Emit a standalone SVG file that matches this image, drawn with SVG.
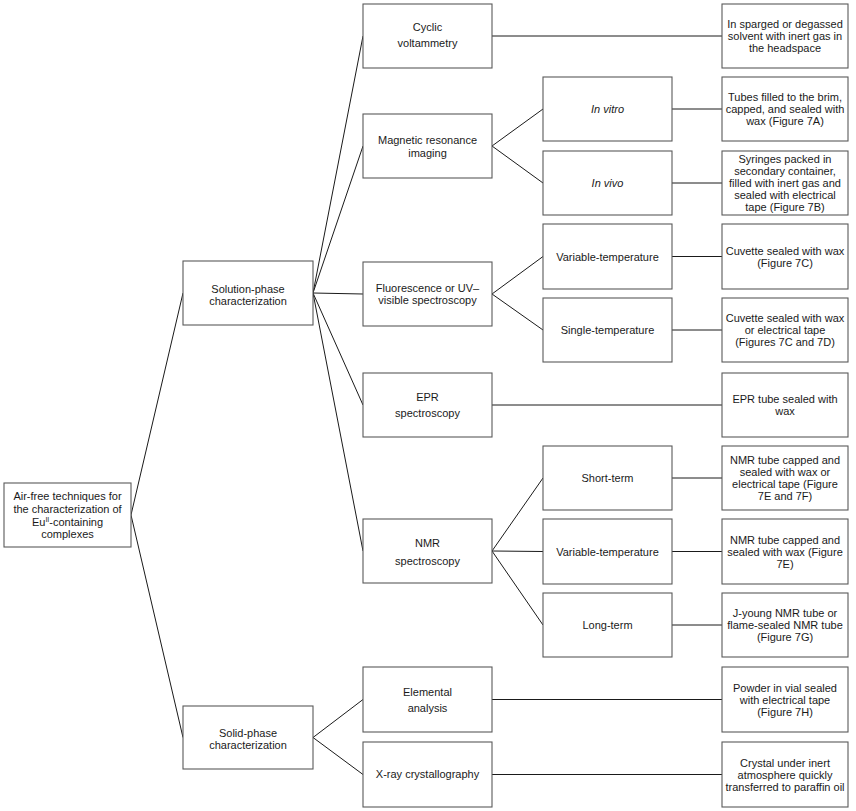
<svg xmlns="http://www.w3.org/2000/svg" width="856" height="811" viewBox="0 0 856 811">
<style>
  .box { fill: #ffffff; stroke: #5a5a5a; stroke-width: 1.1; }
  .t { font-family: "Liberation Sans", Arial, sans-serif; font-size: 11px; fill: #1a1a1a; text-anchor: middle; }
  .it { font-style: italic; }
  .conn line { stroke: #1a1a1a; stroke-width: 1; }
</style>
<rect width="856" height="811" fill="#ffffff"/>

<g id="connectors" class="conn">
  <line x1="131" y1="515" x2="183" y2="293"/>
  <line x1="131" y1="515" x2="183" y2="737.5"/>
  <line x1="313" y1="293" x2="363" y2="36"/>
  <line x1="313" y1="293" x2="363" y2="146"/>
  <line x1="313" y1="293" x2="363" y2="294"/>
  <line x1="313" y1="293" x2="363" y2="405"/>
  <line x1="313" y1="293" x2="363" y2="551"/>
  <line x1="313" y1="737.5" x2="363" y2="699.5"/>
  <line x1="313" y1="737.5" x2="363" y2="774.5"/>
  <line x1="492" y1="146" x2="543" y2="109"/>
  <line x1="492" y1="146" x2="543" y2="183"/>
  <line x1="492" y1="294" x2="543" y2="256.5"/>
  <line x1="492" y1="294" x2="543" y2="330"/>
  <line x1="492" y1="551" x2="543" y2="478"/>
  <line x1="492" y1="551" x2="543" y2="551.5"/>
  <line x1="492" y1="551" x2="543" y2="625"/>
  <line x1="492" y1="36" x2="722" y2="36"/>
  <line x1="672" y1="109" x2="722" y2="109"/>
  <line x1="672" y1="183" x2="722" y2="183"/>
  <line x1="672" y1="256.5" x2="722" y2="256.5"/>
  <line x1="672" y1="330" x2="722" y2="330"/>
  <line x1="492" y1="405" x2="722" y2="405"/>
  <line x1="672" y1="478" x2="722" y2="478"/>
  <line x1="672" y1="551.5" x2="722" y2="551.5"/>
  <line x1="672" y1="625" x2="722" y2="625"/>
  <line x1="492" y1="699.5" x2="722" y2="699.5"/>
  <line x1="492" y1="774.5" x2="722" y2="774.5"/>
</g>

<g id="root">
  <rect class="box" x="4" y="483" width="127" height="64"/>
  <text class="t" x="67.5" y="500">Air-free techniques for</text>
  <text class="t" x="67.5" y="513">the characterization of</text>
  <text class="t" x="67.5" y="525.5">Eu<tspan font-size="7" dy="-4">II</tspan><tspan dy="4">-containing</tspan></text>
  <text class="t" x="67.5" y="538">complexes</text>
</g>

<g id="solution">
  <rect class="box" x="183" y="261" width="130" height="64"/>
  <text class="t" x="248" y="293">Solution-phase</text>
  <text class="t" x="248" y="305">characterization</text>
</g>
<g id="solid">
  <rect class="box" x="183" y="706" width="130" height="63"/>
  <text class="t" x="248" y="737">Solid-phase</text>
  <text class="t" x="248" y="749">characterization</text>
</g>

<g id="cyclic">
  <rect class="box" x="363" y="4" width="129" height="64"/>
  <text class="t" x="427.5" y="31">Cyclic</text>
  <text class="t" x="427.5" y="47">voltammetry</text>
</g>
<g id="mri">
  <rect class="box" x="363" y="114" width="129" height="64"/>
  <text class="t" x="427.5" y="144">Magnetic resonance</text>
  <text class="t" x="427.5" y="157">imaging</text>
</g>
<g id="fluor">
  <rect class="box" x="363" y="262" width="129" height="64"/>
  <text class="t" x="427.5" y="292">Fluorescence or UV–</text>
  <text class="t" x="427.5" y="304">visible spectroscopy</text>
</g>
<g id="epr">
  <rect class="box" x="363" y="373" width="129" height="64"/>
  <text class="t" x="427.5" y="401">EPR</text>
  <text class="t" x="427.5" y="417">spectroscopy</text>
</g>
<g id="nmr">
  <rect class="box" x="363" y="519" width="129" height="64"/>
  <text class="t" x="427.5" y="547">NMR</text>
  <text class="t" x="427.5" y="565">spectroscopy</text>
</g>
<g id="elemental">
  <rect class="box" x="363" y="667" width="129" height="65"/>
  <text class="t" x="427.5" y="696">Elemental</text>
  <text class="t" x="427.5" y="712">analysis</text>
</g>
<g id="xray">
  <rect class="box" x="363" y="742" width="129" height="65"/>
  <text class="t" x="427.5" y="778">X-ray crystallography</text>
</g>

<g id="invitro">
  <rect class="box" x="543" y="77" width="129" height="64"/>
  <text class="t it" x="607.5" y="113">In vitro</text>
</g>
<g id="invivo">
  <rect class="box" x="543" y="151" width="129" height="64"/>
  <text class="t it" x="607.5" y="187">In vivo</text>
</g>
<g id="vt1">
  <rect class="box" x="543" y="224" width="129" height="65"/>
  <text class="t" x="607.5" y="260.5">Variable-temperature</text>
</g>
<g id="st">
  <rect class="box" x="543" y="298" width="129" height="64"/>
  <text class="t" x="607.5" y="334">Single-temperature</text>
</g>
<g id="short">
  <rect class="box" x="543" y="446" width="129" height="64"/>
  <text class="t" x="607.5" y="482">Short-term</text>
</g>
<g id="vt2">
  <rect class="box" x="543" y="519" width="129" height="65"/>
  <text class="t" x="607.5" y="555.5">Variable-temperature</text>
</g>
<g id="long">
  <rect class="box" x="543" y="593" width="129" height="64"/>
  <text class="t" x="607.5" y="629">Long-term</text>
</g>

<g id="leaf-cv">
  <rect class="box" x="722" y="4" width="126" height="64"/>
  <text class="t" x="785" y="28">In sparged or degassed</text>
  <text class="t" x="785" y="40">solvent with inert gas in</text>
  <text class="t" x="785" y="52">the headspace</text>
</g>
<g id="leaf-invitro">
  <rect class="box" x="722" y="77" width="126" height="64"/>
  <text class="t" x="785" y="101">Tubes filled to the brim,</text>
  <text class="t" x="785" y="113">capped, and sealed with</text>
  <text class="t" x="785" y="125">wax (Figure 7A)</text>
</g>
<g id="leaf-invivo">
  <rect class="box" x="722" y="151" width="126" height="64"/>
  <text class="t" x="785" y="163">Syringes packed in</text>
  <text class="t" x="785" y="175">secondary container,</text>
  <text class="t" x="785" y="187">filled with inert gas and</text>
  <text class="t" x="785" y="199">sealed with electrical</text>
  <text class="t" x="785" y="211">tape (Figure 7B)</text>
</g>
<g id="leaf-vt1">
  <rect class="box" x="722" y="224" width="126" height="65"/>
  <text class="t" x="785" y="254.5">Cuvette sealed with wax</text>
  <text class="t" x="785" y="266.5">(Figure 7C)</text>
</g>
<g id="leaf-st">
  <rect class="box" x="722" y="298" width="126" height="64"/>
  <text class="t" x="785" y="322">Cuvette sealed with wax</text>
  <text class="t" x="785" y="334">or electrical tape</text>
  <text class="t" x="785" y="346">(Figures 7C and 7D)</text>
</g>
<g id="leaf-epr">
  <rect class="box" x="722" y="373" width="126" height="64"/>
  <text class="t" x="785" y="403">EPR tube sealed with</text>
  <text class="t" x="785" y="415">wax</text>
</g>
<g id="leaf-short">
  <rect class="box" x="722" y="446" width="126" height="64"/>
  <text class="t" x="785" y="464">NMR tube capped and</text>
  <text class="t" x="785" y="476">sealed with wax or</text>
  <text class="t" x="785" y="488">electrical tape (Figure</text>
  <text class="t" x="785" y="500">7E and 7F)</text>
</g>
<g id="leaf-vt2">
  <rect class="box" x="722" y="519" width="126" height="65"/>
  <text class="t" x="785" y="543.5">NMR tube capped and</text>
  <text class="t" x="785" y="555.5">sealed with wax (Figure</text>
  <text class="t" x="785" y="567.5">7E)</text>
</g>
<g id="leaf-long">
  <rect class="box" x="722" y="593" width="126" height="64"/>
  <text class="t" x="785" y="617">J-young NMR tube or</text>
  <text class="t" x="785" y="629">flame-sealed NMR tube</text>
  <text class="t" x="785" y="641">(Figure 7G)</text>
</g>
<g id="leaf-ea">
  <rect class="box" x="722" y="667" width="126" height="65"/>
  <text class="t" x="785" y="691.5">Powder in vial sealed</text>
  <text class="t" x="785" y="703.5">with electrical tape</text>
  <text class="t" x="785" y="715.5">(Figure 7H)</text>
</g>
<g id="leaf-xray">
  <rect class="box" x="722" y="742" width="126" height="65"/>
  <text class="t" x="785" y="766.5">Crystal under inert</text>
  <text class="t" x="785" y="778.5">atmosphere quickly</text>
  <text class="t" x="785" y="790.5">transferred to paraffin oil</text>
</g>
</svg>
